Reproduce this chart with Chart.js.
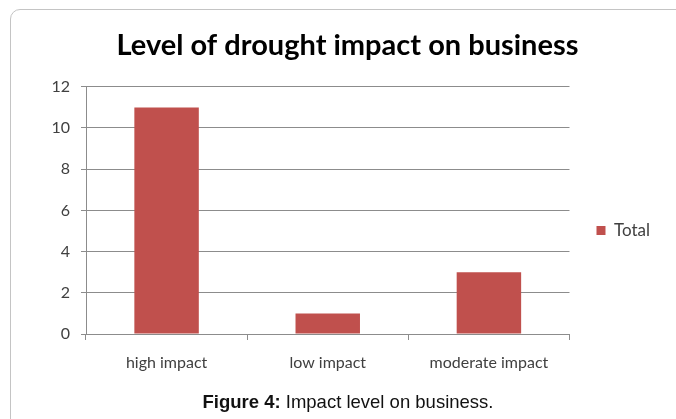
<!DOCTYPE html>
<html>
<head>
<meta charset="utf-8">
<script src="https://cdn.jsdelivr.net/npm/chart.js@4/dist/chart.umd.min.js"></script>
<style>
    html, body { margin: 0; padding: 0; background: #fff; overflow: hidden; }
    #wrap { position: relative; width: 676px; height: 419px; overflow: hidden; }
    #frame {
        position: absolute; left: 10px; top: 9px; width: 700px; height: 450px;
        border: 1px solid #c4c4c4; border-radius: 10px; box-sizing: border-box;
    }
    #chart { position: absolute; left: 0; top: 0; }
    #caption {
        position: absolute; left: 0; width: 696px; top: 393px; text-align: center;
        font-family: "Liberation Sans", Arial, sans-serif; font-size: 18.5px; line-height: 18px; color: #111;
    }
</style>
</head>
<body>
<div id="wrap">
    <div id="frame"></div>
    <canvas id="chart" width="676" height="419"></canvas>
    <div id="caption"><b>Figure 4:</b> Impact level on business.</div>
</div>
<script>
    // Dados do gráfico
    const categories = ['high impact', 'low impact', 'moderate impact'];
    const totals = [11, 1, 3];
    const yTicks = [0, 2, 4, 6, 8, 10, 12];

    const gray = '#8c8c8c';
    const textColor = '#404040';

    new Chart(document.getElementById('chart'), {
        type: 'bar',
        data: {
            labels: categories,
            datasets: [{
                label: 'Total',
                data: totals,
                backgroundColor: '#c0504d',
                categoryPercentage: 1.0,
                barPercentage: 0.4
            }]
        },
        options: {
            responsive: false,
            animation: false,
            devicePixelRatio: 1,
            layout: { padding: { top: 10, left: 35, right: 16, bottom: 0 } },
            plugins: {
                title: {
                    display: true,
                    text: 'Level of drought impact on business',
                    color: '#000',
                    font: { family: 'Lato', size: 29, weight: 'bold' },
                    padding: { top: 18, bottom: 24 }
                },
                legend: {
                    position: 'right',
                    // título vazio só para baixar a legenda
                    title: { display: true, text: ' ', font: { size: 10 }, padding: { top: 0, bottom: 20 } },
                    labels: {
                        boxWidth: 9,
                        boxHeight: 9,
                        color: textColor,
                        font: { family: 'Lato', size: 17 },
                        padding: 27
                    }
                },
                tooltip: { enabled: false }
            },
            scales: {
                x: {
                    afterFit: (scale) => { scale.height = 85; },
                    grid: { drawOnChartArea: false, color: gray, tickLength: 6 },
                    border: { color: gray },
                    ticks: { color: textColor, font: { family: 'Lato', size: 16 }, padding: 13 }
                },
                y: {
                    min: 0,
                    max: 12,
                    afterFit: (scale) => { scale.width = 51; },
                    afterBuildTicks: (scale) => { scale.ticks = yTicks.map(v => ({ value: v })); },
                    grid: { color: gray, tickLength: 5 },
                    border: { color: gray },
                    ticks: { color: textColor, font: { family: 'Lato', size: 16 }, padding: 11 }
                }
            }
        }
    });
</script>
</body>
</html>
